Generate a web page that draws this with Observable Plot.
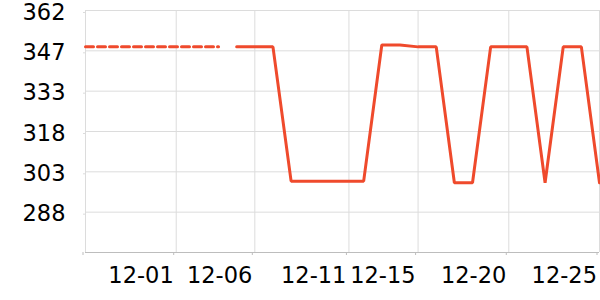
<!DOCTYPE html>
<html>
<head>
<meta charset="utf-8">
<script src="https://cdn.jsdelivr.net/npm/d3@7"></script>
<script src="https://cdn.jsdelivr.net/npm/@observablehq/plot@0.6"></script>
<style>
  html, body { margin: 0; padding: 0; background: #fff; }
</style>
</head>
<body>
<div id="chart"></div>
<script>
// Solid series: daily values
const dates = [
  "2023-12-05","2023-12-06","2023-12-07","2023-12-08","2023-12-09","2023-12-10","2023-12-11",
  "2023-12-12","2023-12-13","2023-12-14","2023-12-15","2023-12-16","2023-12-17","2023-12-18",
  "2023-12-19","2023-12-20","2023-12-21","2023-12-22","2023-12-23","2023-12-24","2023-12-25"
];
const values = [
  348.7, 348.7, 348.7, 299.6, 299.6, 299.6, 299.6,
  299.6, 349.4, 349.4, 348.7, 348.7, 299.0, 299.0,
  348.7, 348.7, 348.7, 299.0, 348.7, 348.7, 299.0
];
// Dashed series
const dashDates = ["2023-11-26T16:00", "2023-12-04"];
const dashValues = [348.7, 348.7];

// Axis ticks
const xTickDates = ["2023-11-26T16:00","2023-12-01T16:00","2023-12-06","2023-12-11T04:30","2023-12-15","2023-12-20","2023-12-25"];
const xTickLabels = ["", "12-01", "12-06", "12-11", "12-15", "12-20", "12-25"];
const yTicks = [288.25, 303, 317.75, 332.5, 347.25, 362];
const yDomain = [273.5, 362];

const toDate = s => new Date(s.length === 10 ? s + "T00:00:00Z" : s + ":00Z");

const solid = dates.map((d, i) => ({date: toDate(d), value: values[i]}));
const dashed = dashDates.map((d, i) => ({date: toDate(d), value: dashValues[i]}));
const xt = xTickDates.map(toDate);
const labelMap = new Map(xt.map((d, i) => [+d, xTickLabels[i]]));

const color = "#ef4a2c";

const chart = Plot.plot({
  width: 600,
  height: 300,
  marginLeft: 85,
  marginRight: 1,
  marginTop: 10,
  marginBottom: 48,
  style: {fontSize: "22.5px", fontFamily: "DejaVu Sans", background: "#fff", color: "#000"},
  x: {type: "utc", domain: [xt[0], xt[xt.length - 1]], label: null},
  y: {domain: yDomain, label: null},
  marks: [
    Plot.gridY(yTicks, {stroke: "#dcdcdc", strokeOpacity: 1}),
    Plot.gridX(xt, {stroke: "#dcdcdc", strokeOpacity: 1}),
    Plot.ruleY([yDomain[0]], {stroke: "#bdbdbd"}),
    Plot.axisY(yTicks, {
      tickSize: 2, tickPadding: 18, stroke: "#dcdcdc", label: null,
      tickFormat: d => String(Math.round(d)), dy: 2, fill: "#000"
    }),
    Plot.axisX(xt, {
      tickSize: 3, tickPadding: 12, stroke: "#bdbdbd", label: null,
      tickFormat: d => labelMap.get(+d), textAnchor: "end", dx: -2.5, fill: "#000"
    }),
    Plot.line(dashed, {x: "date", y: "value", stroke: color, strokeWidth: 3, strokeDasharray: "8,4"}),
    Plot.line(solid, {x: "date", y: "value", stroke: color, strokeWidth: 3, strokeLinejoin: "miter"})
  ]
});
document.getElementById("chart").appendChild(chart);
</script>
</body>
</html>
